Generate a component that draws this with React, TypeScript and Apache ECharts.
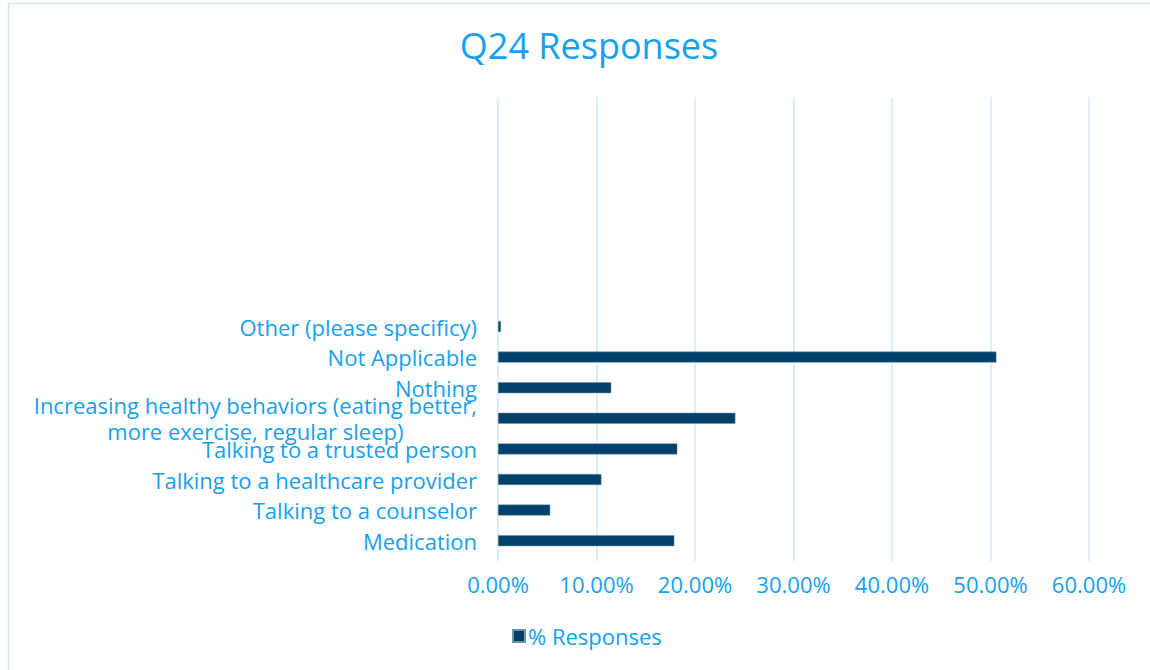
import React, { useEffect, useRef } from "react";
import * as echarts from "echarts";

const categories = [
  "Medication",
  "Talking to a counselor",
  "Talking to a healthcare provider",
  "Talking to a trusted person",
  "Increasing healthy behaviors (eating better,\nmore exercise, regular sleep)",
  "Nothing",
  "Not Applicable",
  "Other (please specificy)",
];
const values = [0.179, 0.053, 0.105, 0.182, 0.241, 0.115, 0.506, 0.003];
const seriesName = "% Responses";
const titleText = "Q24 Responses";
const xTicks = [0, 0.1, 0.2, 0.3, 0.4, 0.5, 0.6];

const BLUE = "#16A0EE";
const GRID = "#CFEAF9";
const BAR = "#00416A";
const FONT = "'Open Sans', 'Noto Sans', sans-serif";

export default function App() {
  const ref = useRef<HTMLDivElement>(null);
  useEffect(() => {
    if (!ref.current) return;
    const chart = echarts.init(ref.current, undefined, { renderer: "svg" });
    chart.setOption({
      animation: false,
      backgroundColor: "#ffffff",
      title: {
        text: titleText,
        left: 584,
        textAlign: "center",
        top: 22,
        textStyle: { color: BLUE, fontSize: 36, fontWeight: "normal", fontFamily: FONT },
      },
      graphic: [
        {
          type: "rect",
          shape: { x: 8.5, y: 3.5, width: 1150, height: 680 },
          style: { fill: "none", stroke: GRID, lineWidth: 1.5 },
          silent: true,
        },
      ],
      legend: {
        left: 507,
        top: 620,
        icon: "rect",
        itemWidth: 12,
        itemHeight: 12,
        itemGap: 6,
        textStyle: { color: BLUE, fontSize: 22, fontFamily: FONT, padding: [0, 0, 0, -2] },
        data: [seriesName],
      },
      grid: { left: 498, right: 61, top: 97, bottom: 114, containLabel: false },
      xAxis: {
        type: "value",
        min: xTicks[0],
        max: xTicks[xTicks.length - 1],
        interval: 0.1,
        axisLine: { show: false },
        axisTick: { show: true, length: 5, lineStyle: { color: GRID, width: 1.5 } },
        splitLine: { show: true, lineStyle: { color: GRID, width: 1.5 } },
        axisLabel: {
          color: BLUE,
          fontSize: 22,
          fontFamily: FONT,
          margin: 17,
          formatter: (v: number) => (v * 100).toFixed(2) + "%",
        },
      },
      yAxis: {
        type: "category",
        data: categories,
        min: 0,
        max: 14,
        axisLine: { show: false },
        axisTick: { show: false },
        splitLine: { show: false },
        axisLabel: {
          color: BLUE,
          fontSize: 22,
          fontFamily: FONT,
          margin: 21,
          lineHeight: 26,
          align: "right",
          formatter: (v: string) =>
            v
              .split("\n")
              .map((line) => "{c|" + line + "}")
              .join("\n"),
          rich: {
            c: {
              align: "center",
              color: BLUE,
              fontSize: 22,
              fontFamily: FONT,
              lineHeight: 26,
            },
          },
        },
      },
      series: [
        {
          name: seriesName,
          type: "bar",
          data: values,
          barWidth: 11,
          itemStyle: { color: BAR, borderColor: "#6F93AD", borderWidth: 0.5 },
        },
      ],
    });
    return () => chart.dispose();
  }, []);
  return (
    <div
      ref={ref}
      style={{ position: "absolute", left: 0, top: 0, width: 1150, height: 670 }}
    />
  );
}
